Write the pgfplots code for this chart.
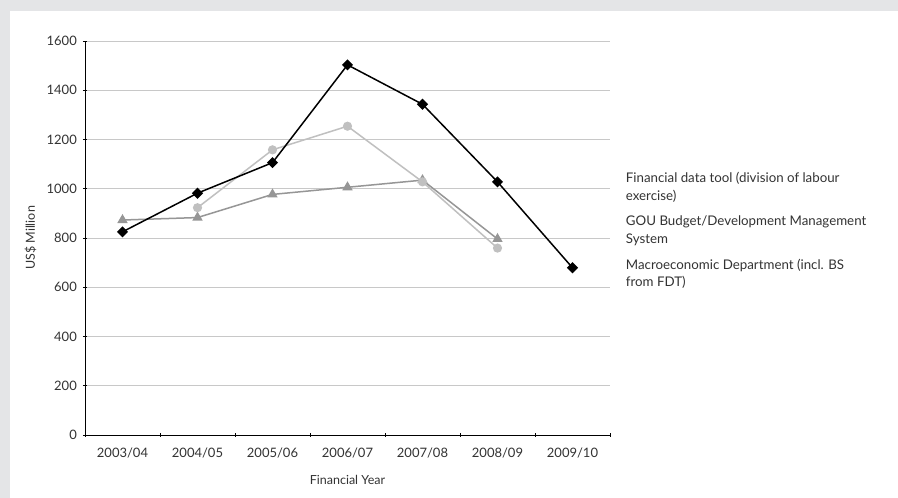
\documentclass[border=0pt,12pt]{standalone}
\usepackage{fontspec}
\setmainfont{Lato}
\usepackage{pgfplots}
\pgfplotsset{compat=1.18}
\definecolor{bgray}{RGB}{228,229,231}
\definecolor{gridc}{RGB}{200,200,200}
\definecolor{lgray}{RGB}{192,192,192}
\definecolor{mgray}{RGB}{150,150,150}
\begin{document}
\begin{tikzpicture}
\fill[bgray] (0,0) rectangle (898pt,498pt);
\fill[white] (10pt,0) rectangle (898pt,487pt);
\begin{axis}[
  at={(85pt,63pt)}, anchor=south west,
  width=525pt, height=394pt, scale only axis,
  xmin=-0.5, xmax=6.5, ymin=0, ymax=1600,
  ytick={0,200,...,1600},
  xtick={0,...,6},
  xticklabels={2003/04,2004/05,2005/06,2006/07,2007/08,2008/09,2009/10},
  minor xtick={-0.5,0.5,...,6.5},
  every major x tick/.append style={draw=none},
  major tick length=4pt, minor tick length=4pt,
  tick align=outside,
  axis lines=left, axis line style={-, black, line width=0.9pt},
  tick style={black, line width=0.8pt},
  ymajorgrids, grid style={gridc, line width=0.8pt},
  /pgf/number format/assume math mode=true,
  /pgf/number format/1000 sep={},
  ticklabel style={font=\fontsize{13}{15}\selectfont, text=black!80},
  xticklabel style={yshift=-7pt},
  yticklabel style={xshift=-2pt},
  xlabel={Financial Year}, ylabel={US\$ Million},
  xlabel style={yshift=-9pt},
  ylabel style={yshift=2pt},
  label style={font=\fontsize{12.5}{15}\selectfont, text=black!80},
  legend style={at={(1.03,0.667)}, anchor=north west, draw=none, fill=none,
    inner sep=0pt, row sep=14pt,
    font=\fontsize{13.3}{17.5}\selectfont,
    nodes={inner sep=0pt, align=left, text=black!80}},
  legend image code/.code={},
  legend cell align=left,
  clip=false,
]
\addplot[mgray, line width=1.5pt, mark=triangle*, mark size=4.5pt, mark options={solid}]
 coordinates {(0,873) (1,883) (2,977) (3,1006) (4,1035) (5,796)};
\addplot[lgray, line width=1.5pt, mark=*, mark size=3.8pt]
 coordinates {(1,923) (2,1158) (3,1254) (4,1028) (5,759)};
\addplot[black, line width=1.5pt, mark=square*, mark size=3.2pt, mark options={rotate=45}]
 coordinates {(0,825) (1,982) (2,1106) (3,1503) (4,1343) (5,1028) (6,679)};
\legend{Financial data tool (division of labour\\exercise),
  GOU Budget/Development Management\\System,
  Macroeconomic Department (incl. BS\\from FDT)}
\end{axis}
\end{tikzpicture}
\end{document}
